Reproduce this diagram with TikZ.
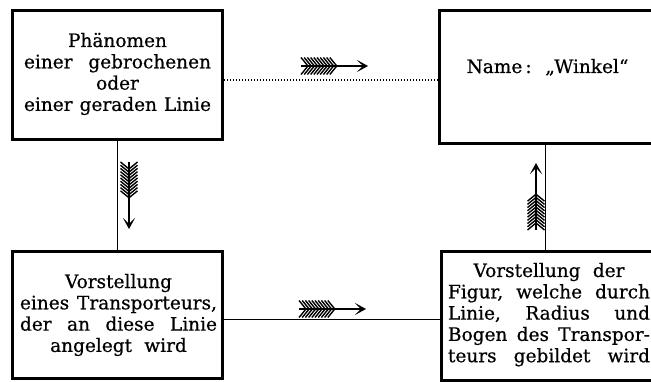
\documentclass[tikz,border=0pt]{standalone}
\usepackage{fontspec}
\setmainfont{DejaVu Serif}
\newfontfamily\heavyserif{DejaVu Serif}[FakeBold=0.6]
\usetikzlibrary{arrows.meta}
\newcommand{\jline}[1]{\leavevmode\hbox to\linewidth{#1}}
\begin{document}
\begin{tikzpicture}[x=1pt,y=-1pt,
  box/.style={draw, line width=3pt, inner sep=0pt},
  lbl/.style={inner sep=0pt, anchor=base, align=center, font=\heavyserif\fontsize{18.5}{21.3}\selectfont},
  conn/.style={line width=0.9pt},
  dotline/.style={line width=1.2pt, dash pattern=on 1pt off 2pt},
  fletch/.pic={
    \draw[line width=1.4pt,-{Stealth[length=11pt,width=12pt,inset=6pt]}] (0pt,0pt) -- (67pt,0pt);
    \foreach \i in {0,...,9}{
      \pgfmathsetmacro\xa{\i*3.2}
      \pgfmathsetmacro\xb{\i*3.2+7}
      \draw[line width=1.4pt] (\xa pt,8.5pt) -- (\xb pt,0pt) -- (\xa pt,-8.5pt);
    }
  }]
\useasboundingbox (0,0) rectangle (651,382);
\clip (0,0) rectangle (651,382);

% boxes
\node[box, minimum width=210pt, minimum height=129pt] (a) at (117.5,75) {};
\node[box, minimum width=220.5pt, minimum height=133pt] (b) at (549.75,77) {};
\node[box, minimum width=210pt, minimum height=127pt] (c) at (117.5,315) {};
\node[box, minimum width=219pt, minimum height=129pt] (d) at (550.5,316) {};

% texts
\node[lbl, text width=187pt] (ta) at (117.5,47) {Phänomen\\
  \jline{einer\hfill gebrochenen}\\
  oder\\
  \jline{einer\hfill geraden\hfill Linie}};
\node[lbl] (tb) at (547.5,73) {Name\,: \ „Winkel“};
\node[lbl, text width=197pt] (tc) at (118.5,288) {Vorstellung\\
  \jline{eines\hfill Transporteurs,}\\
  \jline{der\hfill an\hfill diese\hfill Linie}\\
  angelegt\ \ wird};
\node[lbl, text width=202pt] (td) at (549,277) {Vorstellung\ \ der\\
  \jline{Figur,\hfill welche\hfill durch}\\
  \jline{Linie,\hfill Radius\hfill und}\\
  \jline{Bogen\hfill des\hfill Transpor-}\\
  \jline{teurs\hfill gebildet\hfill wird}};

% connectors
\coordinate (ydot) at (0,80);
\draw[dotline] (a.east |- ydot) -- (b.west |- ydot);
\draw[conn] (a.south) -- (c.north);
\coordinate (xr) at (545,0);
\draw[conn] (b.south -| xr) -- (d.north -| xr);
\coordinate (ylow) at (0,319);
\draw[conn] (c.east |- ylow) -- (d.west |- ylow);

% fletched arrows
\pic at (301,66) {fletch};
\pic at (299,309) {fletch};
\pic[rotate=-90] at (129,162) {fletch};
\pic[rotate=90] at (536,230) {fletch};
\end{tikzpicture}
\end{document}
